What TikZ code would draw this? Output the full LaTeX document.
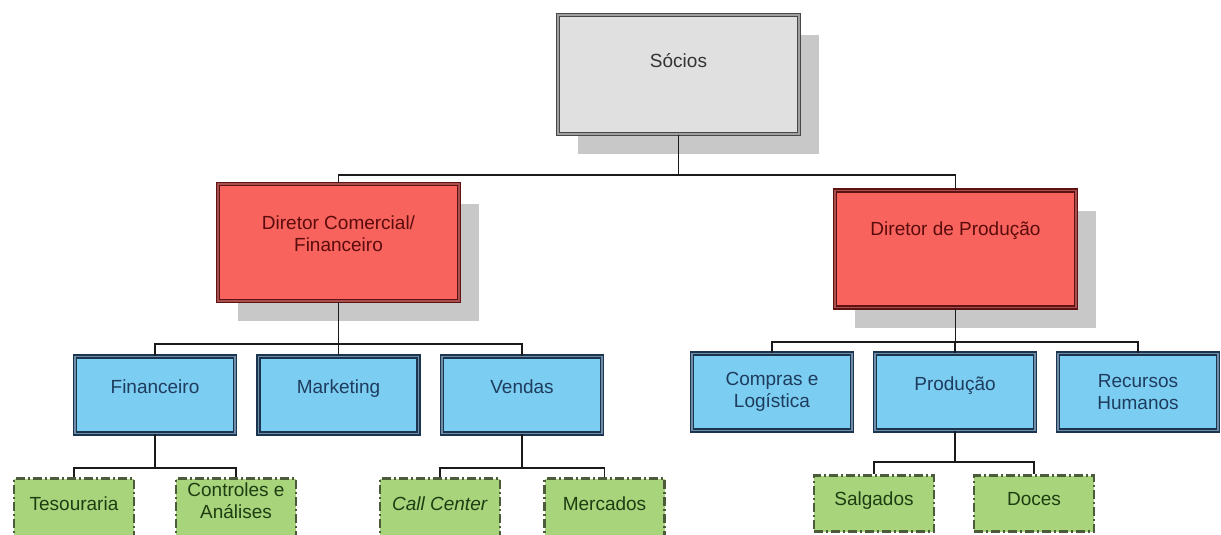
\documentclass[tikz,border=0pt]{standalone}
\usepackage{fontspec}
\setmainfont{Liberation Sans}
\usetikzlibrary{positioning,shadows}

\definecolor{sociofill}{HTML}{E0E0E0}
\definecolor{socioline}{HTML}{474747}
\definecolor{sociomid}{HTML}{A0A0A0}
\definecolor{sociotext}{HTML}{333333}
\definecolor{chieffill}{HTML}{F8635D}
\definecolor{chiefline}{HTML}{5E1212}
\definecolor{chiefmid}{HTML}{A85050}
\definecolor{chieftext}{HTML}{5A0C0C}
\definecolor{deptfill}{HTML}{7CCDF2}
\definecolor{deptline}{HTML}{1B3550}
\definecolor{deptmid}{HTML}{6F8DA6}
\definecolor{depttext}{HTML}{1E3C5E}
\definecolor{unitfill}{HTML}{A8D47C}
\definecolor{unitline}{HTML}{4C5C3A}
\definecolor{unittext}{HTML}{1F3D12}
\definecolor{shadowgray}{HTML}{C8C8C8}
\definecolor{linkcolor}{HTML}{1A1A1A}

\begin{document}
\begin{tikzpicture}[x=1pt, y=-1pt, font=\fontsize{19}{22}\selectfont,
    box/.style={rectangle, align=center, inner sep=0pt, line width=1.2pt, double distance=1.7pt},
    shade box/.style={general shadow={fill=shadowgray, shadow xshift=20pt, shadow yshift=-20pt}},
    socio box/.style={box, shade box, draw=socioline, double=sociomid, fill=sociofill, text=sociotext,
        minimum width=241pt, minimum height=119pt, text depth=27pt},
    chief box/.style={box, shade box, draw=chiefline, double=chiefmid, fill=chieffill, text=chieftext,
        minimum width=241pt, minimum height=117pt},
    dept box/.style={box, draw=deptline, double=deptmid, fill=deptfill, text=depttext,
        minimum width=160pt, minimum height=77pt},
    unit box/.style={rectangle, align=center, inner sep=0pt, draw=unitline, line width=2.2pt,
        dash pattern=on 9pt off 3pt on 2pt off 3pt, fill=unitfill, text=unittext,
        minimum width=120pt, minimum height=56pt, text depth=10pt},
    oneline/.style={text depth=17pt},
    link/.style={draw=linkcolor, line width=1.4pt}]
    \useasboundingbox (0,0) rectangle (1221,535);
    % top
    \node[socio box] (socios) at (678.5,74.5) {Sócios};
    % directors
    \node[chief box, text depth=17pt] (comercial) at (338.5,242.5) {Diretor Comercial/\\Financeiro};
    \node[chief box, text depth=41pt] (producao) at (955.5,249) {Diretor de Produção};
    % departments
    \foreach \x/\name/\txt in {155/financeiro/Financeiro, 338.5/marketing/Marketing, 522/vendas/Vendas}
        \node[dept box, oneline] (\name) at (\x,395) {\txt};
    \node[dept box] (compras) at (772,392) {Compras e\\Logística};
    \node[dept box, oneline] (fabrica) at (955,392) {Produção};
    \node[dept box] (rh) at (1138,392) {Recursos\\Humanos};
    % units (left ones run past the lower edge)
    \foreach \x/\name/\txt in {74/tesouraria/Tesouraria, 440/callcenter/\textit{Call Center}, 604.5/mercados/Mercados}
        \node[unit box, minimum height=60pt] (\name) at (\x,508.5) {\txt};
    \node[unit box, minimum height=60pt, text depth=16pt] (controles) at (236,508.5) {Controles e\\Análises};
    \node[unit box] (salgados) at (874,503.5) {Salgados};
    \node[unit box] (doces) at (1034,503.5) {Doces};
    % connector levels
    \coordinate (bar0) at (0,175);
    \coordinate (bar1) at (0,344);
    \coordinate (bar2) at (0,342);
    \coordinate (bar3) at (0,468);
    \coordinate (bar4) at (0,462);
    \foreach \kid in {comercial, producao}
        \draw[link] (socios.south) -- (socios.south |- bar0) -| (\kid.north);
    \foreach \kid in {financeiro, marketing, vendas}
        \draw[link] (comercial.south) -- (comercial.south |- bar1) -| (\kid.north);
    \foreach \kid in {compras, fabrica, rh}
        \draw[link] (producao.south) -- (producao.south |- bar2) -| (\kid.north);
    \foreach \kid in {tesouraria, controles}
        \draw[link] (financeiro.south) -- (financeiro.south |- bar3) -| (\kid.north);
    \foreach \kid in {callcenter, mercados}
        \draw[link] (vendas.south) -- (vendas.south |- bar3) -| (\kid.north);
    \foreach \kid in {salgados, doces}
        \draw[link] (fabrica.south) -- (fabrica.south |- bar4) -| (\kid.north);
\end{tikzpicture}
\end{document}
